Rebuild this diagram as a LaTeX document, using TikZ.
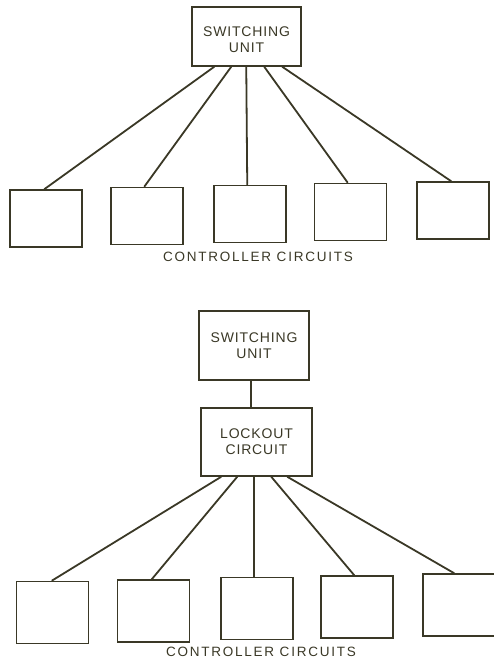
\documentclass[tikz,border=0pt]{standalone}
\usepackage{fontspec}
\setmainfont{Liberation Sans}
\usetikzlibrary{calc}
\definecolor{ink}{HTML}{3A3826}
\begin{document}
\begin{tikzpicture}[x=1pt,y=-1pt,
  box/.style={draw=ink, line width=1.5pt, minimum width=72pt, inner sep=0pt},
  boxtext/.style={inner sep=0pt, text=ink, align=center,
    font=\fontsize{14}{16}\selectfont\addfontfeatures{LetterSpace=6}},
  unitbox/.style={draw=ink, line width=1.5pt, inner sep=0pt, text=ink, align=center,
    font=\fontsize{14}{16}\selectfont\addfontfeatures{LetterSpace=6}},
  wire/.style={draw=ink, line width=1.8pt},
  caption/.style={text=ink, inner sep=0pt,
    font=\fontsize{13.5}{15}\selectfont\addfontfeatures{LetterSpace=13}}]
\useasboundingbox (0,0) rectangle (494,662);
% ---- top diagram ----
\node[unitbox, minimum width=109pt, minimum height=59pt] (sw) at (246.5,36.5) {};
\node[boxtext] (swt) at ($(sw.center)+(0,3)$) {SWITCHING\\UNIT};
\node[box, minimum height=57pt] (a1) at (46,218.5) {};
\node[box, minimum height=57pt] (a2) at (147,216) {};
\node[box, minimum height=57pt] (a3) at (250,214) {};
\node[box, minimum height=57pt] (a4) at (350.5,212) {};
\node[box, minimum height=57pt] (a5) at (453,210.5) {};
\foreach \i/\o/\e in {1/23/35, 2/40/34, 3/55/34, 4/73/34, 5/91/35}
  \draw[wire] ($(sw.south west)+(\o,0)$) -- ($(a\i.north west)+(\e,0)$);
\node[caption] (cap1) at (258,257) {CONTROLLER CIRCUITS};
% ---- bottom diagram ----
\node[unitbox, minimum width=110pt, minimum height=69pt] (sw2) at (254,345.5) {SWITCHING\\UNIT};
\node[unitbox, minimum width=111pt, minimum height=68pt] (lo) at (256.5,442) {LOCKOUT\\CIRCUIT};
\draw[wire] ($(sw2.south west)+(53,0)$) -- ($(lo.north west)+(51,0)$);
\node[box, minimum height=62pt] (b1) at (52.5,612.5) {};
\node[box, minimum height=62pt] (b2) at (153.5,611) {};
\node[box, minimum height=62pt] (b3) at (257,608.5) {};
\node[box, minimum height=62pt] (b4) at (357,607) {};
\node[box, minimum height=62pt] (b5) at (459,605) {};
\foreach \i/\o/\e in {1/21/36, 2/37/35, 3/54/34, 4/71/34, 5/87/32}
  \draw[wire] ($(lo.south west)+(\o,0)$) -- ($(b\i.north west)+(\e,0)$);
\node[caption] (cap2) at (261,652) {CONTROLLER CIRCUITS};
\end{tikzpicture}
\end{document}
